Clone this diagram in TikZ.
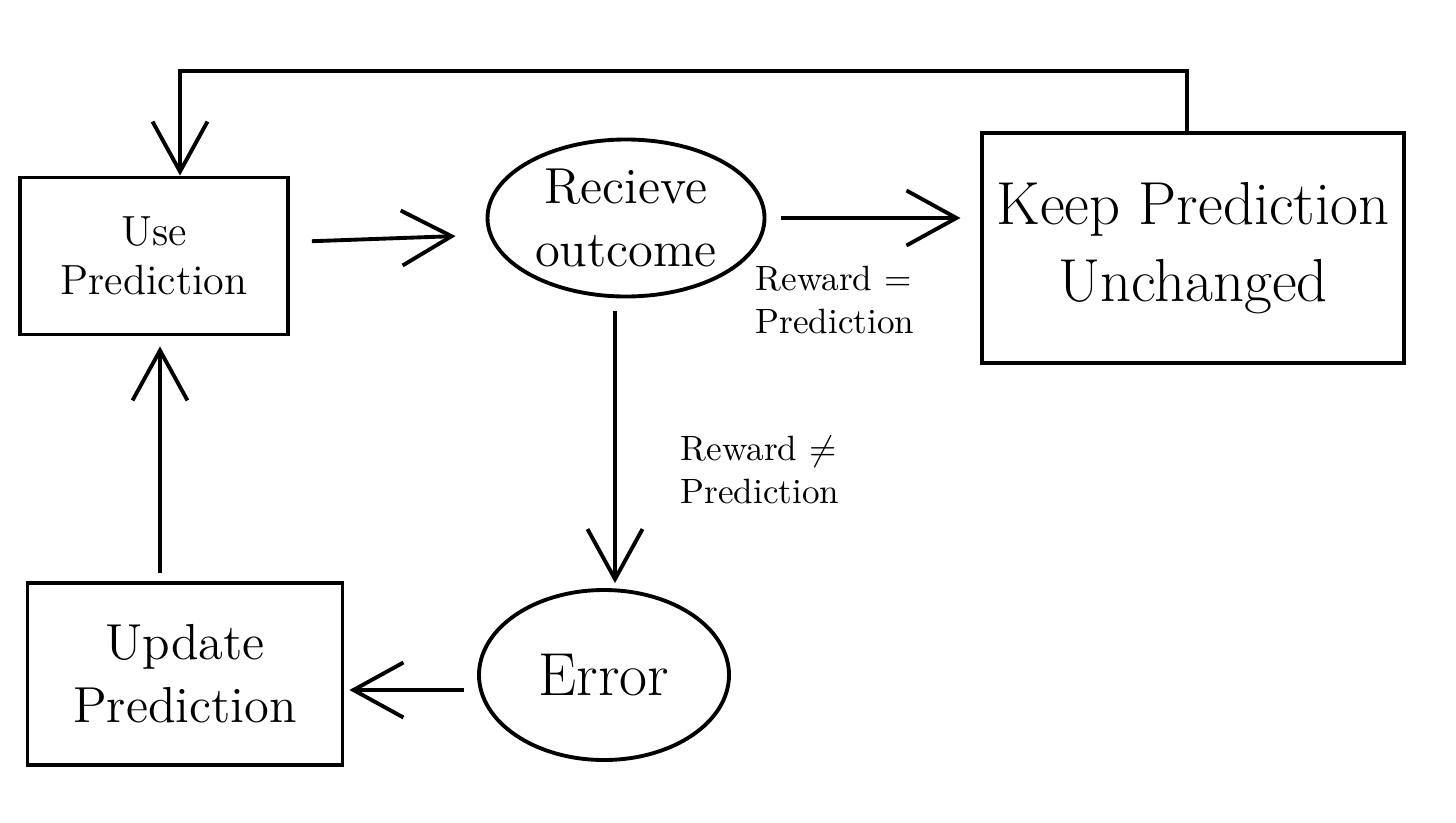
\documentclass[tikz,border=0pt]{standalone}
\usepackage{tikz}
\usetikzlibrary{arrows.meta, positioning, shapes.geometric}
\tikzset{
  pbox/.style ={rectangle, draw=black, line width=1.1pt, align=center, inner sep=4pt},
  poval/.style={ellipse, draw=black, line width=1.1pt, align=center, inner sep=0pt},
  parr/.style ={-{Straight Barb[length=5mm, width=5.5mm]}, line width=1.1pt, color=black},
  plbl/.style ={font=\normalsize, align=left, inner sep=1.5pt},
}
\begin{document}
\begin{tikzpicture}
  \useasboundingbox (0,0) rectangle (14.56,8.22);
  \node[pbox, minimum width=2.68cm, minimum height=1.57cm, font=\large] (use) at (1.54,5.66) {Use\\Prediction};
  \node[poval, minimum width=2.77cm, minimum height=1.57cm, font=\Large] (recv) at (6.26,6.04) {Recieve\\outcome};
  \node[pbox, minimum width=4.13cm, minimum height=2.30cm, font=\LARGE] (keep) at (11.93,5.74) {Keep Prediction\\Unchanged};
  \node[poval, minimum width=2.50cm, minimum height=1.70cm, font=\LARGE] (err) at (6.04,1.47) {Error};
  \node[pbox, minimum width=3.15cm, minimum height=1.82cm, font=\Large] (upd) at (1.85,1.48) {Update\\Prediction};
  \node[plbl] (eqlbl) at (8.35,5.22) {Reward =\\Prediction};
  \node[plbl] (nelbl) at (7.60,3.52) {Reward $\neq$\\Prediction};
  % connectors
  \draw[parr, shorten <=0.22cm, shorten >=0.30cm] ([yshift=0.14cm]use.east) -- ([yshift=-0.17cm]recv.west);
  \draw[parr, shorten <=0.15cm, shorten >=0.20cm] (recv.east) -- (recv.east -| keep.west);
  \draw[parr, shorten <=0.13cm, shorten >=0.05cm] ([xshift=-0.11cm]recv.south) -- ([xshift=-0.11cm]recv.south |- err.north);
  \draw[parr, shorten <=0.13cm, shorten >=0.05cm] ([yshift=-0.15cm]err.west) -- ([yshift=-0.15cm]err.west -| upd.east);
  \draw[parr, shorten <=0.08cm, shorten >=0.10cm] ([xshift=0.06cm]use.south |- upd.north) -- ([xshift=0.06cm]use.south);
  \draw[parr] ([xshift=-0.06cm]keep.north) -- ++(0,0.6) -| ([xshift=0.26cm]use.north);
\end{tikzpicture}
\end{document}
